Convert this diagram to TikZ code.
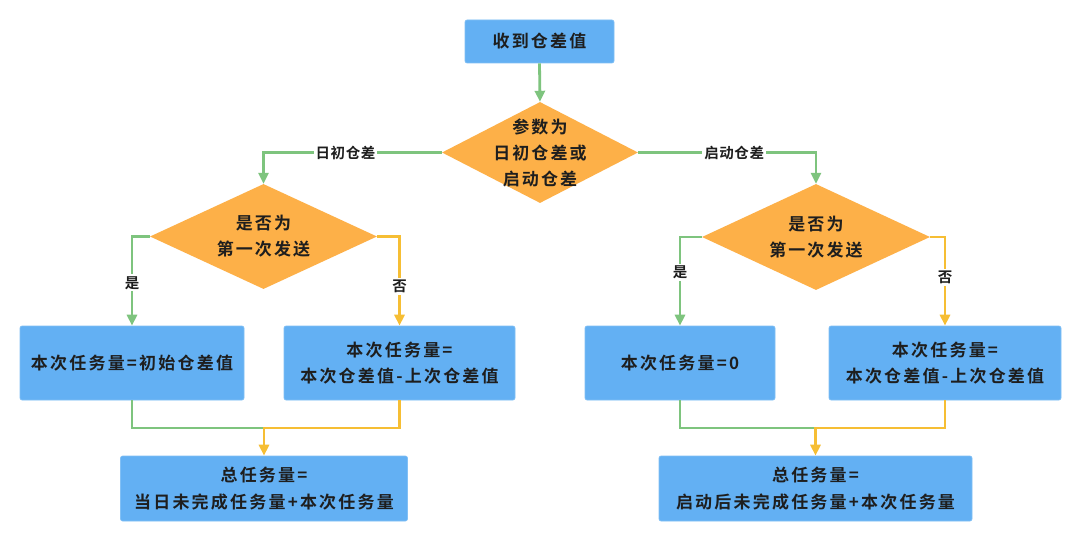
\documentclass[tikz,border=0pt]{standalone}
\usepackage{fontspec}
\setmainfont{Noto Sans CJK SC}[BoldFont={* Bold}]
\usetikzlibrary{shapes.geometric,arrows.meta}
\definecolor{boxblue}{RGB}{99,176,243}
\definecolor{diaorange}{RGB}{253,176,72}
\definecolor{lgreen}{RGB}{126,196,126}
\definecolor{lyellow}{RGB}{246,190,52}
\definecolor{txt}{RGB}{30,30,30}
\tikzset{
  box/.style={rectangle, rounded corners=2pt, fill=boxblue, draw=boxblue!80!white, line width=0.6pt,
    inner sep=0pt, align=center, text=txt,
    font=\fontsize{17}{26.5}\selectfont\bfseries\addfontfeatures{LetterSpace=13}},
  dia/.style={diamond, fill=diaorange, inner sep=0pt},
  diatext/.style={align=center, text=txt, font=\fontsize{17}{26}\selectfont\bfseries\addfontfeatures{LetterSpace=12}},
  gline/.style={draw=lgreen, line width=2.8pt},
  yline/.style={draw=lyellow, line width=2.8pt},
  tip/.style={-{Triangle[width=10pt,length=11pt]}},
  lbl/.style={fill=white, inner sep=2pt, text=txt, font=\fontsize{14.5}{16}\selectfont\bfseries\addfontfeatures{LetterSpace=4}}
}
\begin{document}
\begin{tikzpicture}[x=1pt,y=-1pt]
\useasboundingbox[fill=white] (0,0) rectangle (1080,535);

\node[box, minimum width=149pt, minimum height=43pt] (start) at (539.5,41.5) {收到仓差值};

\node[dia, minimum width=196pt, minimum height=101pt,
  label={[diatext]center:参数为\\日初仓差或\\启动仓差}] (d0) at (540,152.5) {};

\node[dia, minimum width=227pt, minimum height=105pt,
  label={[diatext]center:是否为\\第一次发送}] (dL) at (263.5,236.5) {};
\node[dia, minimum width=228pt, minimum height=106pt,
  label={[diatext]center:是否为\\第一次发送}] (dR) at (816,237) {};

\node[box, minimum width=224pt, minimum height=74pt] (L1) at (132,363) {本次任务量=初始仓差值};
\node[box, minimum width=231pt, minimum height=74pt] (L2) at (399.5,363) {本次任务量=\\本次仓差值-上次仓差值};
\node[box, minimum width=190pt, minimum height=74pt] (R1) at (680,363) {本次任务量=0};
\node[box, minimum width=232pt, minimum height=74pt] (R2) at (945,363) {本次任务量=\\本次仓差值-上次仓差值};

\node[box, minimum width=287pt, minimum height=65pt] (BL) at (264,488.5) {总任务量=\\当日未完成任务量+本次任务量};
\node[box, minimum width=313pt, minimum height=65pt] (BR) at (815.5,488.5) {总任务量=\\启动后未完成任务量+本次任务量};

\coordinate (mL) at (264,428);
\coordinate (mR) at (815.5,428);

\draw[gline, tip] (start.south) -- (d0.north);
\draw[gline, tip] (d0.west) -| (dL.north) node[pos=0.27, lbl] {日初仓差};
\draw[gline, tip] (d0.east) -| (dR.north) node[pos=0.27, lbl] {启动仓差};

\draw[gline, tip] (dL.west) -| (L1.north) node[pos=0.76, lbl] {是};
\draw[yline, tip] (dL.east) -| (L2.north) node[pos=0.78, lbl] {否};
\draw[gline, tip] (dR.west) -| (R1.north) node[pos=0.70, lbl] {是};
\draw[yline, tip] (dR.east) -| (R2.north) node[pos=0.73, lbl] {否};

\draw[gline] (L1.south) |- (mL);
\draw[yline, tip] (L2.south) |- (mL) -- (BL.north);
\draw[gline] (R1.south) |- (mR);
\draw[yline, tip] (R2.south) |- (mR) -- (BR.north);
\end{tikzpicture}
\end{document}
